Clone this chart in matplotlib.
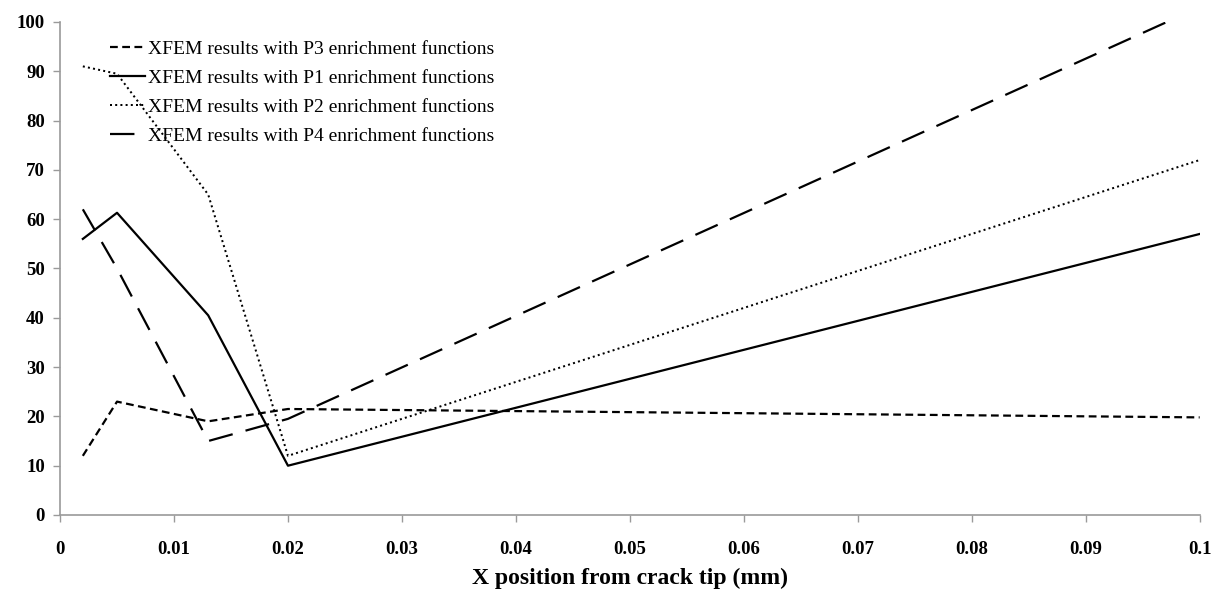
import matplotlib
matplotlib.use("Agg")
import matplotlib.pyplot as plt

# Distance from the crack tip (mm)
x_pos = [0.002, 0.005, 0.013, 0.02, 0.1]

# Results for each enrichment function set
p3_vals = [12, 23, 19, 21.5, 19.8]
p1_vals = [56, 61.3, 40.5, 10, 57]
p2_vals = [91, 89.5, 65, 12, 72]
p4_vals = [62, 50, 15, 19.5, 103]

labels = [
    "XFEM results with P3 enrichment functions",
    "XFEM results with P1 enrichment functions",
    "XFEM results with P2 enrichment functions",
    "XFEM results with P4 enrichment functions",
]

x_ticks = [0, 0.01, 0.02, 0.03, 0.04, 0.05, 0.06, 0.07, 0.08, 0.09, 0.1]
x_tick_labels = ["0", "0.01", "0.02", "0.03", "0.04", "0.05", "0.06", "0.07", "0.08", "0.09", "0.1"]
y_ticks = list(range(0, 101, 10))

plt.rcParams["font.family"] = ["Liberation Serif", "DejaVu Serif"]

fig = plt.figure(figsize=(12.13, 5.91), dpi=100)
ax = fig.add_axes([0.0495, 0.1286, 0.9395, 0.8342])

lw = 1.6
ax.plot(x_pos, p3_vals, color="black", lw=lw, dashes=(3.5, 2), label=labels[0])
ax.plot(x_pos, p1_vals, color="black", lw=lw, label=labels[1])
ax.plot(x_pos, p2_vals, color="black", lw=lw * 0.9, dashes=(1, 1.6), label=labels[2])
ax.plot(x_pos, p4_vals, color="black", lw=lw, dashes=(11, 6), label=labels[3])

ax.set_xlim(0, 0.1)
ax.set_ylim(0, 100)
ax.set_xticks(x_ticks)
ax.set_xticklabels(x_tick_labels)
ax.set_yticks(y_ticks)

for side in ("top", "right"):
    ax.spines[side].set_visible(False)
for side in ("left", "bottom"):
    ax.spines[side].set_color("#9a9a9a")
    ax.spines[side].set_linewidth(1.2)

ax.tick_params(axis="both", direction="out", color="#9a9a9a", length=5, width=1,
               labelsize=13.5)
ax.tick_params(axis="x", pad=14)
ax.tick_params(axis="y", pad=6)
for lab in ax.get_xticklabels() + ax.get_yticklabels():
    lab.set_fontweight("bold")

ax.set_xlabel("X position from crack tip (mm)", fontsize=17, fontweight="bold", labelpad=7)

leg = ax.legend(loc="upper left", bbox_to_anchor=(0.037, 0.978), frameon=False,
                fontsize=14, handlelength=1.8, handletextpad=0.15, labelspacing=0.58,
                borderaxespad=0)

fig.savefig("out.png", dpi=100)
